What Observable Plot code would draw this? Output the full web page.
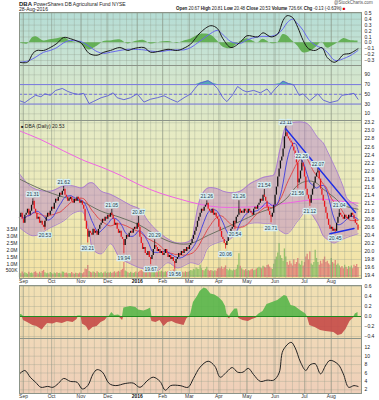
<!DOCTYPE html>
<html><head><meta charset="utf-8">
<script src="https://cdn.jsdelivr.net/npm/d3@7"></script>
<script src="https://cdn.jsdelivr.net/npm/@observablehq/plot@0.6"></script>
<style>
body{margin:0;background:#fff;font-family:"Liberation Sans",Arial,sans-serif;}
#wrap{position:relative;width:379px;height:400px;overflow:hidden;background:#fff;}
.t{position:absolute;white-space:nowrap;color:#222;font-size:5px;line-height:6px;}
</style></head><body><div id="wrap"></div>
<script>
// ---------- DATA ----------
const closes = [
20.85,20.95,20.80,20.70,20.90,20.95,21.05,20.90,21.00,21.15,
21.25,21.05,20.95,20.80,20.85,20.70,20.75,20.65,20.60,20.75,
20.85,20.95,20.90,21.00,21.10,21.05,21.20,21.30,21.25,21.35,
21.45,21.40,21.50,21.55,21.40,21.35,21.25,21.30,21.35,21.25,
21.20,21.30,21.25,21.35,21.30,21.20,21.25,21.15,21.05,20.75,
20.55,20.35,20.50,20.45,20.40,20.55,20.45,20.50,20.40,20.55,
20.65,20.70,20.80,20.75,20.85,20.80,20.90,20.85,20.95,20.90,
20.80,20.65,20.70,20.55,20.45,20.50,20.35,20.30,20.15,20.30,
20.40,20.35,20.45,20.50,20.45,20.55,20.60,20.55,20.70,20.60,
20.35,20.20,20.05,20.10,19.95,19.90,20.00,19.85,19.80,19.90,
20.05,20.15,20.10,20.00,20.05,19.95,20.00,19.90,19.95,20.05,
19.95,19.85,19.90,19.80,19.85,19.75,19.70,19.80,19.85,19.95,
19.90,20.00,19.95,20.05,20.00,20.10,20.05,20.15,20.20,20.30,
20.40,20.50,20.60,20.75,20.85,20.95,21.05,21.00,21.10,21.15,
21.20,21.05,21.00,20.95,21.05,20.90,20.95,20.85,20.80,20.60,
20.50,20.35,20.30,20.20,20.15,20.25,20.35,20.40,20.55,20.60,
20.75,20.70,20.85,20.90,21.05,20.95,21.00,20.95,21.05,21.00,
20.95,21.05,21.00,20.95,20.90,21.05,21.10,21.05,21.15,21.20,
21.30,21.25,21.40,21.35,21.25,21.10,21.00,20.90,20.85,20.95,
21.15,21.40,21.60,21.85,22.05,22.25,22.35,22.55,22.85,22.95,
22.85,22.80,22.75,22.70,22.60,22.50,22.30,22.20,21.70,21.80,
22.00,22.20,22.10,21.85,21.55,21.40,21.30,21.20,21.40,21.55,
21.70,21.85,21.95,22.00,21.80,21.55,21.40,21.25,21.10,20.95,
20.80,20.65,20.55,20.60,20.50,20.55,20.50,20.70,20.85,20.95,
20.90,20.85,20.80,20.90,20.85,20.80,20.90,20.85,20.95,20.90,
20.80,20.70,20.66,20.53];
const volumeK = [
320,280,410,260,350,300,240,380,290,330, 270,360,420,310,250,390,300,450,520,340,
280,310,260,370,300,240,330,280,350,290, 310,260,400,380,290,330,250,300,270,360,
280,240,310,290,260,330,300,270,350,620, 580,880,450,380,330,400,360,290,420,350,
300,370,280,330,410,290,350,320,380,300, 340,420,310,390,450,380,520,600,1100,480,
420,350,300,380,330,290,350,410,300,380, 460,520,420,390,480,550,400,450,620,700,
480,420,390,350,430,380,460,400,350,420, 380,450,400,500,430,560,640,480,390,420,
350,400,380,330,420,360,390,450,520,480, 600,550,700,620,580,900,650,520,480,600,
750,540,460,520,480,430,500,460,620,700, 650,780,600,720,850,580,500,620,540,480,
560,520,600,900,1750,820,640,560,500,580, 460,520,480,550,600,500,540,620,680,760,
700,640,820,760,700,880,920,780,650,600, 980,1300,1500,1800,2500,1600,1400,1200,2100,1500,
1100,900,1200,1000,850,1300,950,1100,1400,1000, 900,1200,850,1100,1500,1700,1300,1900,1000,900,
1100,2000,1400,1100,900,1200,1000,1300,1500,1100, 1200,1000,900,1400,1100,1000,1250,900,1000,850,
700,800,650,900,750,600,800,700,850,650, 900,800,950,727];

const ma50Idx = [0,16,33,46,61,75,90,105,117,128,141,158,165,178,190,199,208,215,221,227,235,242,253];
const ma50Val = [21.8,21.55,21.35,21.25,21.0,20.85,20.65,20.35,20.2,20.2,20.4,20.65,20.75,20.95,21.1,21.3,21.65,21.75,21.72,21.55,21.35,21.15,21.05];
const ma200Idx = [0,16,33,49,61,75,90,105,120,135,150,165,180,195,210,225,240,253];
const ma200Val = [23.0,22.78,22.5,22.25,22.1,21.9,21.65,21.45,21.3,21.17,21.1,21.1,21.12,21.18,21.25,21.3,21.25,21.2];
const bbIdx = [0,10,23,33,40,46,48,52,55,61,68,75,83,90,96,103,111,118,128,131,134,137,141,148,152,158,165,173,178,182,188,190,195,200,208,215,223,227,230,235,238,242,245,253];
const bbUpper = [21.93,21.58,21.5,21.63,21.63,21.58,21.6,21.7,21.7,21.5,21.42,21.3,21.15,21.05,20.76,20.51,20.31,20.21,20.28,20.7,21.2,21.45,21.58,21.56,21.5,21.46,21.5,21.7,21.78,21.84,21.88,21.9,22.58,23.15,23.22,23.18,22.83,22.7,22.5,22.15,21.93,21.6,21.31,21.13];
const bbLower = [20.6,20.39,20.59,20.76,20.95,21.0,20.95,20.5,20.05,19.94,20.19,19.84,19.69,19.59,19.55,19.52,19.72,19.59,19.72,19.7,19.68,19.8,20.1,20.22,20.26,20.32,20.6,20.7,20.71,20.7,20.69,20.65,20.51,20.44,20.76,21.01,20.69,20.39,20.3,20.21,20.25,20.31,20.35,20.44];
const markIdx = [10,19,33,51,69,78,89,98,101,116,140,154,161,164,183,188,199,208,211,217,223,236,239];
const markVal = [21.31,20.53,21.62,20.21,21.05,19.94,20.87,19.67,20.29,19.56,21.26,20.06,20.54,21.26,21.54,20.71,23.11,21.56,22.26,21.12,22.07,20.45,21.04];
const markSide = ["a","b","a","b","a","b","a","b","a","b","a","b","b","a","a","b","a","b","a","b","a","b","a"];
const trendIdx = [199,251,232,250];
const trendVal = [23.05,20.97,20.44,20.57];
const trendId = [1,1,2,2];

const macdIdx = [0,6,10,13,18,23,28,33,38,43,46,52,58,63,68,75,81,85,93,98,105,111,118,123,128,135,143,148,152,158,165,170,178,182,188,193,197,200,204,208,212,216,221,226,230,235,238,242,247,253];
const macdVal = [-0.33,-0.33,-0.18,-0.13,-0.13,-0.08,-0.01,0.09,0.07,0.03,0.0,-0.18,-0.21,-0.16,-0.13,-0.08,-0.13,-0.10,-0.08,-0.16,-0.14,-0.11,-0.13,-0.09,-0.02,0.17,0.29,0.24,0.07,-0.08,0.01,0.12,0.10,0.17,0.10,0.15,0.38,0.46,0.43,0.26,0.04,-0.10,-0.13,-0.08,-0.25,-0.33,-0.30,-0.20,-0.18,-0.10];
const macdSignal = [-0.33,-0.31,-0.27,-0.23,-0.16,-0.13,-0.08,0.0,0.04,0.03,0.02,-0.06,-0.15,-0.18,-0.16,-0.13,-0.11,-0.11,-0.12,-0.14,-0.15,-0.13,-0.12,-0.12,-0.08,0.03,0.16,0.21,0.14,0.02,-0.01,0.05,0.10,0.11,0.11,0.15,0.24,0.34,0.40,0.32,0.21,0.06,-0.04,-0.09,-0.16,-0.29,-0.30,-0.27,-0.22,-0.13];

const rsiIdx = [0,4,8,12,16,19,23,27,32,36,40,44,48,52,55,61,66,70,73,78,83,88,93,98,103,108,113,118,123,128,132,135,141,144,148,152,155,159,163,167,170,175,180,185,188,191,195,197,201,205,209,212,217,223,227,232,238,241,246,250,253];
const rsiVal = [37,33,41,48,45,51,48,58,62,56,52,50,52,31,35,43,47,53,43,39,43,51,34,40,43,47,40,34,43,51,65,73,78,73,62,43,35,48,66,58,55,58,53,61,51,61,72,77,72,69,48,51,37,51,38,33,37,48,50,52,40];

const histIdx = [0,2,3,6,8,10,13,17,19,21,25,28,32,36,40,43,44,46,47,50,52,55,58,61,64,66,67,69,71,74,76,77,78,83,87,89,93,96,98,99,102,105,108,111,114,117,120,123,125,127,128,130,133,135,138,140,143,146,149,152,154,155,157,158,161,163,164,167,171,174,177,179,182,185,189,193,196,198,200,203,206,210,214,215,217,221,225,229,235,238,241,244,247,250,251,253];
const histVal = [0.05,0.03,-0.08,-0.12,-0.15,-0.18,-0.2,-0.27,-0.2,-0.14,-0.15,-0.12,-0.14,-0.1,-0.12,-0.06,0.01,0.01,-0.15,-0.2,-0.29,-0.22,-0.2,-0.12,-0.08,-0.01,0.0,0.08,0.02,0.03,-0.05,-0.08,0.17,0.2,0.18,0.13,0.11,0.14,0.17,-0.1,-0.12,-0.08,-0.2,-0.12,-0.1,-0.14,-0.16,-0.18,-0.05,0.0,0.05,0.28,0.4,0.5,0.57,0.55,0.45,0.43,0.38,0.3,0.2,0.05,-0.05,0.05,0.15,0.15,-0.04,-0.08,-0.1,-0.06,-0.03,0.05,0.1,0.24,0.28,0.32,0.38,0.42,0.4,0.22,0.2,0.12,0.05,0.0,-0.18,-0.22,-0.28,-0.3,-0.32,-0.38,-0.36,-0.26,-0.1,-0.02,0.05,0.08];

const lowIdx = [0,4,8,12,16,21,25,29,33,38,43,47,51,55,58,62,67,72,79,85,90,96,100,105,109,113,120,126,130,135,141,146,150,155,159,163,167,171,175,180,185,190,194,197,203,206,210,214,217,221,225,229,232,238,242,246,250,253];
const lowVal = [5.8,6.6,5.0,3.8,2.6,2.8,2.6,3.5,4.7,4.0,3.8,2.2,3.0,5.8,6.8,6.2,3.5,3.0,3.5,3.6,2.6,4.3,5.0,4.0,1.9,3.0,3.0,2.6,4.7,7.4,8.8,7.6,5.0,6.3,7.3,6.2,6.2,7.1,5.6,4.0,4.3,4.3,6.0,11.4,13.3,12.0,8.6,6.6,7.9,8.2,5.8,7.9,9.0,8.1,5.8,2.6,3.0,2.8];

const monthLabels = ["Sep","Oct","Nov","Dec","2016","Feb","Mar","Apr","May","Jun","Jul","Aug"];
const holidays = ["2015-09-07","2015-11-26","2015-12-25","2016-01-01","2016-01-18","2016-02-15","2016-03-25","2016-05-30","2016-07-04"];
const priceTicks = [19.4,19.6,19.8,20.0,20.2,20.4,20.6,20.8,21.0,21.2,21.4,21.6,21.8,22.0,22.2,22.4,22.6,22.8,23.0,23.2];
const macdTicks = [-0.3,-0.2,-0.1,0.0,0.1,0.2,0.3,0.4,0.5];
const rsiTicks = [10,30,50,70,90];
const histTicks = [-0.4,-0.2,0.0,0.2,0.4,0.6];
const lowTicks = [2,4,6,8,10,12];
const volTicks = [500,1000,1500,2000,2500,3000,3500];

// ---------- trading calendar ----------
const days = [];
for (let t = Date.UTC(2015,7,27); t <= Date.UTC(2016,7,26); t += 864e5) {
  const d = new Date(t), wd = d.getUTCDay(), s = d.toISOString().slice(0,10);
  if (wd === 0 || wd === 6 || holidays.includes(s)) continue;
  days.push({s, wd});
}
const weekIdx = [], monthIdx = [];
days.forEach((d,i) => {
  if (i > 0 && d.wd < days[i-1].wd) weekIdx.push(i);
  if (i > 0 && d.s.slice(5,7) !== days[i-1].s.slice(5,7)) monthIdx.push(i);
});
const months = monthIdx.map((i,k) => ({i, label: monthLabels[k]}));

const rows = closes.map((c,i) => ({i, c, p: i ? closes[i-1] : c, vol: volumeK[i]}));
const zip = (ix, vals) => ix.map((i,k) => ({i, v: vals[k]}));
const bb = bbIdx.map((i,k) => ({i, hi: bbUpper[k], lo: bbLower[k]}));
const marks = markIdx.map((i,k) => ({i, v: markVal[k], side: markSide[k], c: closes[i]}));
const trend = trendIdx.map((i,k) => ({i, v: trendVal[k], z: trendId[k]}));
const macd = macdIdx.map((i,k) => ({i, m: macdVal[k], s: macdSignal[k]}));

// ---------- layout ----------
const wrap = document.getElementById("wrap");
const FONT = '"Liberation Sans", Arial, sans-serif';
const X = {domain: [0, 255.6], axis: null};
const STYLE = {background: "transparent", fontSize: "5px", fontFamily: FONT, color: "#222", overflow: "visible", maxWidth: "none"};
function place(el, top) { el.style.position = "absolute"; el.style.left = "0px"; el.style.top = top + "px"; wrap.appendChild(el); }
function bg(top, h, grad) { const d = document.createElement("div"); d.style.cssText = `position:absolute;left:19px;width:342px;top:${top}px;height:${h}px;background:${grad}`; wrap.appendChild(d); }
function txt(html, x, y, extra) { const d = document.createElement("div"); d.className = "t"; d.innerHTML = html; d.style.left = x + "px"; d.style.top = y + "px"; if (extra) d.style.cssText += extra; wrap.appendChild(d); }
const vgrid = () => [
  Plot.ruleX(weekIdx, {stroke: "#8d9888", strokeOpacity: 0.3}),
  Plot.ruleX(monthIdx, {stroke: "#7d8878", strokeOpacity: 0.45})
];
const hgrid = t => Plot.ruleY(t, {stroke: "#8d9888", strokeOpacity: 0.3});
function panel(top, height, y, marks) {
  place(Plot.plot({width: 379, height, marginLeft: 19, marginRight: 18, marginTop: 0, marginBottom: 0,
    x: X, y: {label: null, axis: "right", tickSize: 0, tickPadding: 3, ...y}, style: STYLE, marks}), top);
}

// backgrounds
bg(12, 53, "linear-gradient(#b5ddd5,#cbe4d3)");
bg(65, 55, "linear-gradient(#cfe5d0,#dfe8c6)");
bg(120, 158, "linear-gradient(#e5ebc6,#eeeab8 50%,#f4e2a4)");
bg(285, 53, "linear-gradient(#f1e0b4,#f0d9b0)");
bg(338, 55, "linear-gradient(#f0d8b8,#efcfb9)");

// header
txt('<b style="font-size:6px">DBA</b> PowerShares DB Agricultural Fund  NYSE', 19, 0.5);
txt('28-Aug-2016', 19, 6);
txt('@StockCharts.com', 334, 0, "color:#555;font-size:4.5px");
txt('<b>Open</b> 20.67 <b>High</b> 20.81 <b>Low</b> 20.48 <b>Close</b> 20.53 <b>Volume</b> 726.6K <b>Chg</b> -0.13 (-0.63%) <span style="color:#d00">&#9632;</span>', 176, 5.5, "font-size:4.5px;letter-spacing:-0.05px");

// MACD panel
panel(12, 53, {domain: [-0.385, 0.514], ticks: macdTicks, tickFormat: d3.format(".1f")}, [
  ...vgrid(), hgrid(macdTicks),
  Plot.areaY(macd, {x: "i", y: d => d.m - d.s, fill: "#55a842", fillOpacity: 0.85, curve: "catmull-rom"}),
  Plot.lineY(macd, {x: "i", y: "s", stroke: "#6868ee", strokeWidth: 1, curve: "catmull-rom"}),
  Plot.lineY(macd, {x: "i", y: "m", stroke: "#1a1a1a", strokeWidth: 1, curve: "catmull-rom"}),
  Plot.frame({stroke: "#8c9488"})
]);

// RSI panel
const rsi = zip(rsiIdx, rsiVal);
panel(65, 55, {domain: [-3.7, 109.1], ticks: rsiTicks, tickFormat: d3.format("d")}, [
  ...vgrid(), hgrid(rsiTicks),
  Plot.areaY(rsi, {x: "i", y1: 70, y2: d => Math.max(70, d.v), fill: "#3f9fb2", fillOpacity: 0.85}),
  Plot.ruleY([70, 30], {stroke: "#7a7ae0", strokeWidth: 1}),
  Plot.ruleY([50], {stroke: "#7a7ae0", strokeDasharray: "3,2"}),
  Plot.lineY(rsi, {x: "i", y: "v", stroke: "#5b5bd6", strokeWidth: 0.9}),
  Plot.frame({stroke: "#8c9488"})
]);

// Volume (behind price)
place(Plot.plot({width: 379, height: 158, marginLeft: 19, marginRight: 18, marginTop: 0, marginBottom: 0, x: X,
  y: {domain: [-73.5, 11540], axis: "left", label: null, tickSize: 0, tickPadding: 2, ticks: volTicks,
      tickFormat: v => v >= 1000 ? (v / 1000).toFixed(1) + "M" : v + "K"},
  style: STYLE,
  marks: [
    Plot.ruleX(rows, {x: "i", y1: 0, y2: "vol", stroke: d => d.c < d.p ? "#dc6f6f" : "#7fba5c", strokeOpacity: 0.8, strokeWidth: 1.3})
  ]}), 120);

// Price panel
panel(120, 158, {domain: [19.327, 23.257], ticks: priceTicks, tickFormat: d3.format(".1f")}, [
  ...vgrid(), hgrid(priceTicks),
  Plot.areaY(bb, {x: "i", y1: "lo", y2: "hi", fill: "#b57dc6", fillOpacity: 0.45, curve: "catmull-rom"}),
  Plot.lineY(bb, {x: "i", y: "hi", stroke: "#a070d2", strokeWidth: 0.8, curve: "catmull-rom"}),
  Plot.lineY(bb, {x: "i", y: "lo", stroke: "#a070d2", strokeWidth: 0.8, curve: "catmull-rom"}),
  Plot.lineY(zip(ma200Idx, ma200Val), {x: "i", y: "v", stroke: "#f064e4", strokeWidth: 1, curve: "catmull-rom"}),
  Plot.lineY(zip(ma50Idx, ma50Val), {x: "i", y: "v", stroke: "#6d7262", strokeWidth: 1, curve: "catmull-rom"}),
  Plot.lineY(rows, Plot.windowY({k: 20, anchor: "end"}, {x: "i", y: "c", stroke: "#e04040", strokeWidth: 0.9})),
  Plot.lineY(rows, Plot.windowY({k: 10, anchor: "end"}, {x: "i", y: "c", stroke: "#3c3ce0", strokeWidth: 0.9})),
  Plot.ruleX(marks, {x: "i", y1: "c", y2: "v", stroke: d => d.side === "b" ? "#e8161b" : "#111", strokeWidth: 0.8}),
  Plot.ruleX(rows, {x: "i", y1: "p", y2: "c", stroke: d => d.c < d.p ? "#e8161b" : "#111", strokeWidth: 1.3}),
  Plot.line(trend, {x: "i", y: "v", z: "z", stroke: "#1e2ee6", strokeWidth: 1.4}),
  Plot.text(marks.filter(d => d.side === "a"), {x: "i", y: "v", text: d => d.v.toFixed(2), dy: -4, fill: "#2a3a4a", stroke: "#d5eef2", strokeWidth: 2.5, fontSize: 5}),
  Plot.text(marks.filter(d => d.side === "b"), {x: "i", y: "v", text: d => d.v.toFixed(2), dy: 5, fill: "#2a3a4a", stroke: "#d5eef2", strokeWidth: 2.5, fontSize: 5}),
  Plot.frame({stroke: "#8c9488"})
]);
txt('<span style="font-size:4px">&#9632;</span> DBA (Daily) 20.53', 21, 123);

// month label strips
function strip(top) {
  place(Plot.plot({width: 379, height: 8, marginLeft: 19, marginRight: 18, marginTop: 0, marginBottom: 0, x: X, style: STYLE,
    marks: [
      Plot.text(months.filter(d => d.label !== "2016"), {x: "i", frameAnchor: "middle", text: "label", fill: "#333", fontSize: 5}),
      Plot.text(months.filter(d => d.label === "2016"), {x: "i", frameAnchor: "middle", text: "label", fill: "#111", fontSize: 5, fontWeight: "bold"})
    ]}), top);
}
strip(277);
strip(392);

// Histogram panel
const hist = zip(histIdx, histVal);
panel(285, 53, {domain: [-0.44, 0.62], ticks: histTicks, tickFormat: d3.format(".1f")}, [
  ...vgrid(), hgrid(histTicks),
  Plot.areaY(hist, {x: "i", y: d => Math.max(0, d.v), fill: "#58b64a", fillOpacity: 0.9}),
  Plot.areaY(hist, {x: "i", y: d => Math.min(0, d.v), fill: "#c54a48", fillOpacity: 0.9}),
  Plot.ruleY([0], {stroke: "#1f8a1f", strokeWidth: 1}),
  Plot.frame({stroke: "#8c9488"})
]);

// Bottom line panel
panel(338, 55, {domain: [1.12, 14.21], ticks: lowTicks, tickFormat: d3.format("d")}, [
  ...vgrid(), hgrid(lowTicks),
  Plot.lineY(zip(lowIdx, lowVal), {x: "i", y: "v", stroke: "#222", strokeWidth: 1, curve: "catmull-rom"}),
  Plot.frame({stroke: "#8c9488"})
]);
</script></body></html>
